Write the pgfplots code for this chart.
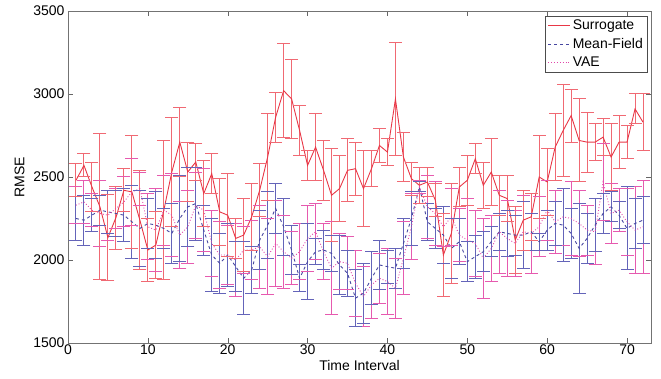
\documentclass[border=0pt]{standalone}
\usepackage{pgfplots}
\usepackage{pgfplotstable}
\pgfplotsset{compat=1.18}
\usepackage{fontspec}
\setmainfont{Liberation Sans}

\definecolor{surr}{RGB}{232,55,70}
\definecolor{surrE}{RGB}{240,105,115}
\definecolor{mf}{RGB}{70,70,160}
\definecolor{mfE}{RGB}{100,100,185}
\definecolor{vae}{RGB}{225,70,170}
\definecolor{vaeE}{RGB}{230,90,175}

\pgfplotstableread{
x y e
1 2480 100
2 2570 70
3 2440 150
4 2320 440
5 2135 260
6 2255 190
7 2420 130
8 2410 340
9 2240 300
10 2060 190
11 2090 200
12 2300 420
13 2530 330
14 2710 210
15 2530 180
16 2590 110
17 2400 200
18 2520 120
19 2290 200
20 2270 250
21 2130 120
22 2150 220
23 2260 200
24 2420 160
25 2620 260
26 2860 150
27 3020 285
28 2970 240
29 2780 150
30 2570 90
31 2680 200
32 2540 180
33 2390 280
34 2430 200
35 2540 190
36 2550 160
37 2430 230
38 2550 110
39 2690 100
40 2650 80
41 2970 340
42 2620 150
43 2490 100
44 2450 110
45 2470 90
46 2360 100
47 2030 250
48 2160 300
49 2440 120
50 2480 150
51 2610 90
52 2450 140
53 2530 200
54 2390 120
55 2370 140
56 2120 200
57 2240 180
58 2260 140
59 2500 250
60 2470 200
61 2680 200
62 2780 280
63 2870 160
64 2720 250
65 2710 180
66 2710 110
67 2740 110
68 2620 200
69 2710 160
70 2710 100
71 2910 90
72 2830 170
}\surrogate

\pgfplotstableread{
x y e
1 2250 130
2 2240 150
3 2270 100
4 2300 90
5 2290 130
6 2280 140
7 2270 160
8 2230 220
9 2190 230
10 2220 150
11 2210 200
12 2190 120
13 2160 180
14 2250 260
15 2320 240
16 2340 220
17 2180 150
18 2030 220
19 1980 180
20 2030 190
21 1960 150
22 1890 220
23 1940 140
24 2120 180
25 2210 200
26 2310 150
27 2200 170
28 2060 150
29 1890 80
30 1990 230
31 2050 80
32 2060 120
33 2040 110
34 1970 180
35 1920 140
36 1770 170
37 1800 180
38 1890 160
39 1970 150
40 1960 100
41 1950 120
42 2100 150
43 2250 160
44 2440 30
45 2230 110
46 2190 120
47 2150 170
48 2070 180
49 2110 140
50 1990 120
51 2020 130
52 2050 120
53 2110 90
54 2170 110
55 2160 140
56 2150 120
57 2150 200
58 2170 110
59 2110 50
60 2180 120
61 2220 130
62 2210 220
63 2160 150
64 2070 270
65 2130 150
66 2210 160
67 2280 120
68 2320 90
69 2270 80
70 2190 250
71 2220 150
72 2240 140
}\meanfield

\pgfplotstableread{
x y e
1 2330 110
2 2350 130
3 2300 100
4 2280 200
5 2270 150
6 2310 120
7 2350 150
8 2410 200
9 2430 100
10 2200 200
11 2180 250
12 2300 210
13 2270 250
14 2150 200
15 2200 220
16 2330 200
17 2300 250
18 2100 200
19 2030 200
20 2030 180
21 2000 220
22 2060 140
23 2060 180
24 2080 250
25 2020 230
26 2100 260
27 2050 220
28 2010 160
29 2050 170
30 2130 200
31 2170 170
32 2050 170
33 1950 280
34 1990 170
35 1980 160
36 1860 200
37 1780 180
38 1850 200
39 1890 150
40 1870 200
41 1830 180
42 2010 220
43 2200 200
44 2440 40
45 2320 190
46 2280 190
47 2200 120
48 2260 170
49 2150 160
50 2120 250
51 2100 200
52 2010 240
53 2070 200
54 2170 250
55 2130 230
56 2100 200
57 2170 220
58 2160 240
59 2200 180
60 2300 180
61 2230 190
62 2260 170
63 2250 220
64 2220 200
65 2180 150
66 2170 200
67 2470 230
68 2280 180
69 2300 130
70 2230 200
71 2180 260
72 2200 280
}\vae

\pgfplotsset{
  ebar/.style={forget plot, color=#1, solid, line width=1pt},
  ecap/.style={forget plot, color=#1, only marks, mark=-, mark size=6.5pt,
    mark options={color=#1, solid, line width=1pt}},
}

\begin{document}
\begin{tikzpicture}
\begin{axis}[
  width=583pt, height=332pt, scale only axis,
  xmin=0, xmax=73, ymin=1500, ymax=3500,
  xtick={0,10,...,70}, ytick={1500,2000,...,3500},
  tick align=inside, major tick length=5pt,
  axis line style={black!55},
  tick style={black!60},
  /pgf/number format/assume math mode=true,
  /pgf/number format/1000 sep={},
  tick label style={font=\fontsize{14}{16}\selectfont},
  xticklabel style={yshift=2pt},
  label style={font=\fontsize{14}{16}\selectfont},
  xlabel={Time Interval}, ylabel={RMSE},
  xlabel style={yshift=1pt},
  ylabel style={yshift=2pt},
  legend style={at={(1,1)}, anchor=north east, xshift=-4pt, yshift=-5pt,
    draw=black!70, font=\fontsize{14}{16}\selectfont, inner sep=2pt,
    row sep=3pt, cells={anchor=west}},
  legend image code/.code={\draw[#1, line width=1.2pt] (0pt,0pt) -- (22pt,0pt);},
]
% VAE error bars
\addplot[ebar=vaeE, quiver={u=0, v=2*\thisrow{e}}] table[x=x, y expr=\thisrow{y}-\thisrow{e}] {\vae};
\addplot[ecap=vaeE] table[x=x, y expr=\thisrow{y}+\thisrow{e}] {\vae};
\addplot[ecap=vaeE] table[x=x, y expr=\thisrow{y}-\thisrow{e}] {\vae};
% Mean-field error bars
\addplot[ebar=mfE, quiver={u=0, v=2*\thisrow{e}}] table[x=x, y expr=\thisrow{y}-\thisrow{e}] {\meanfield};
\addplot[ecap=mfE] table[x=x, y expr=\thisrow{y}+\thisrow{e}] {\meanfield};
\addplot[ecap=mfE] table[x=x, y expr=\thisrow{y}-\thisrow{e}] {\meanfield};
% Surrogate error bars
\addplot[ebar=surrE, quiver={u=0, v=2*\thisrow{e}}] table[x=x, y expr=\thisrow{y}-\thisrow{e}] {\surrogate};
\addplot[ecap=surrE] table[x=x, y expr=\thisrow{y}+\thisrow{e}] {\surrogate};
\addplot[ecap=surrE] table[x=x, y expr=\thisrow{y}-\thisrow{e}] {\surrogate};
% main lines
\addplot[color=surr, line width=0.9pt] table[x=x, y=y] {\surrogate};
\addlegendentry{Surrogate}
\addplot[color=mf, dashed, line width=0.9pt] table[x=x, y=y] {\meanfield};
\addlegendentry{Mean-Field}
\addplot[color=vae, dotted, line width=0.9pt] table[x=x, y=y] {\vae};
\addlegendentry{VAE}
\end{axis}
\pgfresetboundingbox
\path[use as bounding box] ([xshift=-68pt,yshift=-36pt]current axis.south west) rectangle ([xshift=10pt,yshift=11pt]current axis.north east);
\end{tikzpicture}
\end{document}
